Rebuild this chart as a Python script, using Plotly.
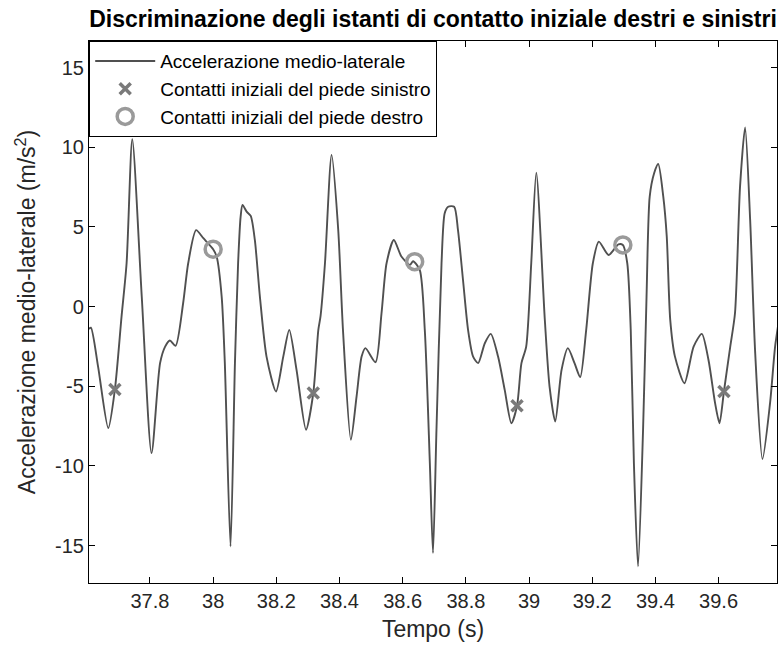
import plotly.graph_objects as go

# Signal (time in s, acceleration in m/s^2)
t = [37.606, 37.613, 37.636, 37.668, 37.689, 37.71, 37.726, 37.744, 37.774, 37.805,
     37.832, 37.848, 37.863, 37.881, 37.905, 37.921, 37.946, 37.969, 38.000, 38.011,
     38.027, 38.037, 38.055, 38.069, 38.079, 38.087, 38.093, 38.106, 38.119, 38.132,
     38.148, 38.169, 38.199, 38.222, 38.241, 38.264, 38.294, 38.317, 38.333, 38.340,
     38.354, 38.375, 38.396, 38.411, 38.436, 38.454, 38.470, 38.482, 38.514, 38.533,
     38.549, 38.572, 38.596, 38.623, 38.633, 38.654, 38.670, 38.686, 38.696, 38.707,
     38.723, 38.733, 38.744, 38.763, 38.775, 38.791, 38.807, 38.823, 38.839, 38.860,
     38.879, 38.902, 38.923, 38.944, 38.962, 38.976, 38.991, 39.007, 39.023, 39.050,
     39.065, 39.083, 39.103, 39.123, 39.144, 39.162, 39.181, 39.202, 39.221, 39.252,
     39.283, 39.297, 39.311, 39.322, 39.332, 39.345, 39.361, 39.372, 39.382, 39.396,
     39.409, 39.425, 39.436, 39.447, 39.462, 39.492, 39.521, 39.547, 39.568, 39.589,
     39.603, 39.617, 39.637, 39.652, 39.668, 39.684, 39.700, 39.716, 39.739, 39.763,
     39.779, 39.790]
acc = [-1.40, -1.32, -3.80, -7.63, -5.20, -0.63, 2.72, 10.50, 0.63, -9.20,
       -3.55, -2.51, -2.13, -2.47, 0.21, 2.72, 4.80, 4.29, 3.60, 3.14,
       0.63, -3.55, -15.06, -3.55, 2.72, 5.65, 6.38, 5.96, 5.69, 4.18,
       0.63, -3.14, -5.33, -3.14, -1.46, -3.97, -7.73, -5.43, -1.46, -0.60,
       2.72, 9.52, 4.81, -1.46, -8.36, -5.65, -3.14, -2.61, -3.49, -0.42,
       2.72, 4.18, 3.14, 2.62, 2.85, 2.30, -1.46, -9.82, -15.47, -7.73,
       2.72, 5.86, 6.27, 6.27, 4.81, 1.67, -1.46, -3.14, -3.55, -2.30,
       -1.71, -3.14, -5.23, -7.32, -6.23, -3.55, -2.51, 2.72, 8.41, -0.83,
       -5.02, -7.21, -3.97, -2.61, -3.55, -4.43, -1.46, 2.72, 4.08, 3.24,
       3.91, 3.87, 2.72, -1.46, -9.82, -16.31, -7.73, 0.63, 6.90, 8.37,
       8.95, 6.90, 4.39, -0.83, -3.14, -4.81, -2.51, -1.71, -3.34, -6.06,
       -7.32, -5.33, -2.51, -0.42, 7.53, 11.25, 5.44, -2.92, -9.57, -6.06,
       -2.51, -1.00]

# Initial contacts
left_t = [37.689, 38.317, 38.962, 39.617]
left_acc = [-5.20, -5.43, -6.23, -5.33]
right_t = [38.000, 38.638, 39.297]
right_acc = [3.60, 2.82, 3.87]

xtick_vals = [37.8, 38.0, 38.2, 38.4, 38.6, 38.8, 39.0, 39.2, 39.4, 39.6]
xtick_text = ["37.8", "38", "38.2", "38.4", "38.6", "38.8", "39", "39.2", "39.4", "39.6"]
ytick_vals = [-15, -10, -5, 0, 5, 10, 15]
ytick_text = ["-15", "-10", "-5", "0", "5", "10", "15"]

FONT = "Liberation Sans, Arial, Helvetica, sans-serif"

fig = go.Figure()
fig.add_trace(go.Scatter(
    x=t, y=acc, mode="lines", name="Accelerazione medio-laterale",
    line=dict(color="#505050", width=1.9, shape="spline", smoothing=0.7),
))
fig.add_trace(go.Scatter(
    x=left_t, y=left_acc, mode="markers", name="Contatti iniziali del piede sinistro",
    marker=dict(symbol="x-thin", size=11, color="#7a7a7a",
                line=dict(color="#7a7a7a", width=3.5)),
))
fig.add_trace(go.Scatter(
    x=right_t, y=right_acc, mode="markers", name="Contatti iniziali del piede destro",
    marker=dict(symbol="circle-open", size=16, color="#9a9a9a",
                line=dict(color="#9a9a9a", width=3.5)),
))

axis_common = dict(
    showline=True, linecolor="black", linewidth=1.2, mirror="ticks",
    ticks="inside", ticklen=6, tickcolor="black", tickwidth=1,
    showgrid=False, zeroline=False,
    tickfont=dict(family=FONT, size=20, color="#262626"),
)

fig.update_layout(
    width=782, height=652,
    margin=dict(l=89, r=5, t=41, b=69),
    paper_bgcolor="white", plot_bgcolor="white",
    title=dict(text="<b>Discriminazione degli istanti di contatto iniziale destri e sinistri</b>",
               font=dict(family=FONT, size=23, color="black"),
               x=(89 + 777) / 2 / 782, xanchor="center", y=0.971, yanchor="middle"),
    xaxis=dict(range=[37.607, 39.785], tickvals=xtick_vals, ticktext=xtick_text,
               title=dict(text="Tempo (s)", font=dict(family=FONT, size=23, color="#262626"),
                          standoff=9),
               **axis_common),
    yaxis=dict(range=[-17.35, 16.67], tickvals=ytick_vals, ticktext=ytick_text,
               title=dict(text="Accelerazione medio-laterale (m/s<sup>2</sup>)",
                          font=dict(family=FONT, size=23, color="#262626"), standoff=12),
               **axis_common),
    legend=dict(x=0, y=1, xanchor="left", yanchor="top",
                bgcolor="white", bordercolor="black", borderwidth=1.2,
                font=dict(family=FONT, size=19, color="black"),
                itemwidth=60, tracegroupgap=0),
    showlegend=True,
)

fig.write_html("out.html")
